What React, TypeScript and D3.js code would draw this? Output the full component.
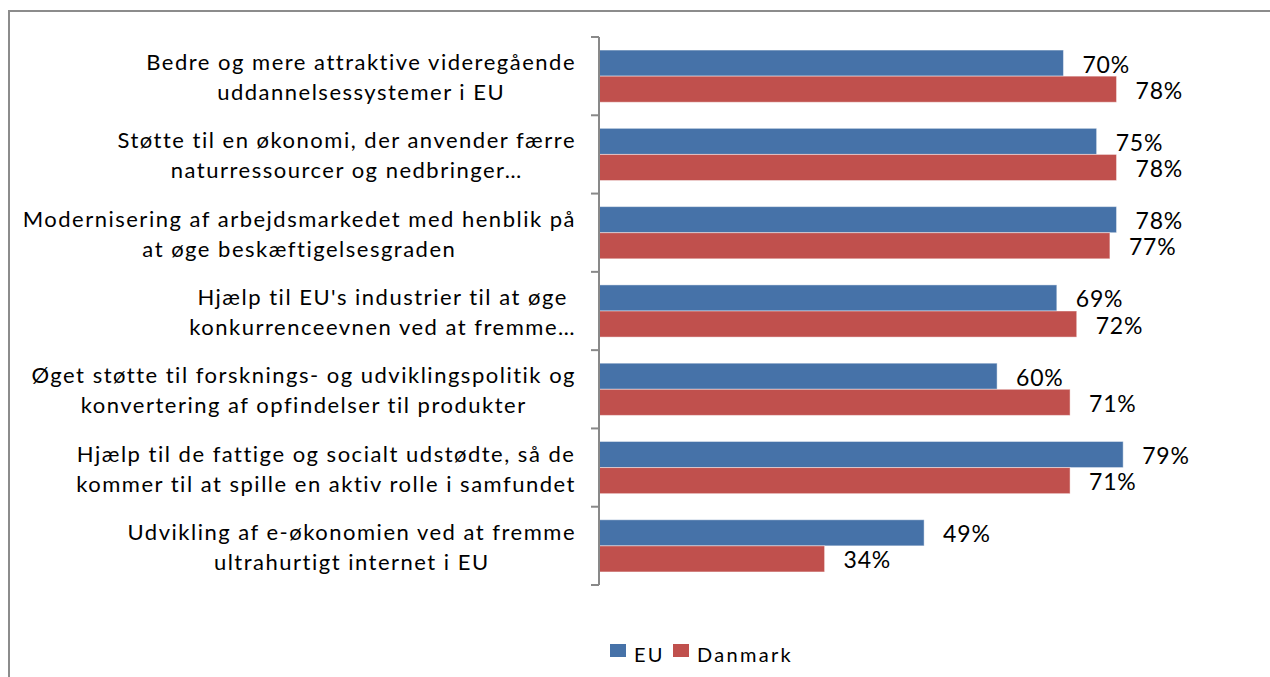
import { useRef, useEffect } from 'react';
import * as d3 from 'd3';

const categories: string[][] = [
  ['Bedre og mere attraktive videregående', 'uddannelsessystemer i EU'],
  ['Støtte til en økonomi, der anvender færre', 'naturressourcer og nedbringer…'],
  ['Modernisering af arbejdsmarkedet med henblik på', 'at øge beskæftigelsesgraden'],
  ["Hjælp til EU's industrier til at øge", 'konkurrenceevnen ved at fremme…'],
  ['Øget støtte til forsknings- og udviklingspolitik og', 'konvertering af opfindelser til produkter'],
  ['Hjælp til de fattige og socialt udstødte, så de', 'kommer til at spille en aktiv rolle i samfundet'],
  ['Udvikling af e-økonomien ved at fremme', 'ultrahurtigt internet i EU'],
];

const seriesNames = ['EU', 'Danmark'];
const euValues = [70, 75, 78, 69, 60, 79, 49];
const dkValues = [78, 78, 77, 72, 71, 71, 34];
const colors = ['#4672a8', '#c0504d'];

const W = 1270;
const H = 677;
const FONT = 'Lato, "Open Sans", sans-serif';

export default function App() {
  const svgRef = useRef<SVGSVGElement>(null);

  useEffect(() => {
    if (!svgRef.current) return;
    const svg = d3.select(svgRef.current);
    svg.selectAll('*').remove();

    const keys = categories.map((_, i) => String(i));
    const x = d3.scaleLinear().domain([0, 100]).range([599, 1262.5]);
    const y = d3.scaleBand<string>().domain(keys).range([37, 585]).paddingInner(1 / 3).paddingOuter(1 / 6);
    const sub = d3.scaleBand<string>().domain(seriesNames).range([0, y.bandwidth()]);
    const step = y.step();
    const top = 37;

    // outer frame (cut off at right and bottom)
    svg.append('rect')
      .attr('x', 9).attr('y', 11).attr('width', 1400).attr('height', 800)
      .attr('fill', '#fff').attr('stroke', '#8c8c8c').attr('stroke-width', 2);

    // bars + value labels
    const series = [euValues, dkValues];
    series.forEach((vals, s) => {
      svg.append('g').selectAll('rect')
        .data(vals)
        .join('rect')
        .attr('x', x(0))
        .attr('y', (_, i) => (y(keys[i]) ?? 0) + (sub(seriesNames[s]) ?? 0))
        .attr('width', (d) => x(d) - x(0))
        .attr('height', sub.bandwidth())
        .attr('fill', colors[s])
        .attr('stroke', 'rgba(255,255,255,0.45)')
        .attr('stroke-width', 1);

      svg.append('g').selectAll('text')
        .data(vals)
        .join('text')
        .attr('x', (d) => x(d) + 19)
        .attr('y', (_, i) => (y(keys[i]) ?? 0) + (sub(seriesNames[s]) ?? 0) + sub.bandwidth() / 2 + 9.5)
        .attr('font-family', FONT)
        .attr('font-size', 23)
        .attr('letter-spacing', 0.8)
        .attr('fill', '#000')
        .text((d) => `${d}%`);
    });

    // category axis
    const axis = svg.append('g').attr('stroke', '#898989').attr('stroke-width', 2).attr('fill', 'none');
    axis.append('line').attr('x1', 599).attr('x2', 599).attr('y1', top).attr('y2', top + step * categories.length);
    d3.range(categories.length + 1).forEach((i) => {
      axis.append('line')
        .attr('x1', 591).attr('x2', 599)
        .attr('y1', top + step * i).attr('y2', top + step * i);
    });

    // category labels: block right-aligned, lines centred in block
    const labelRight = 576;
    categories.forEach((lines, i) => {
      const c = top + step * (i + 0.5);
      const g = svg.append('g');
      const texts = lines.map((line, j) =>
        g.append('text')
          .attr('y', c - 6 + j * 30)
          .attr('font-family', FONT)
          .attr('font-size', 22)
          .attr('letter-spacing', 1.5)
          .attr('text-anchor', 'middle')
          .attr('fill', '#000')
          .text(line),
      );
      const maxW = d3.max(texts, (t) => (t.node() as SVGTextElement).getComputedTextLength()) ?? 0;
      texts.forEach((t) => t.attr('x', labelRight - maxW / 2));
    });

    // legend
    const legend = svg.append('g');
    const legendX = [610, 673];
    seriesNames.forEach((name, s) => {
      legend.append('rect')
        .attr('x', legendX[s]).attr('y', 644).attr('width', 16).attr('height', 13)
        .attr('fill', colors[s]);
      legend.append('text')
        .attr('x', legendX[s] + 24).attr('y', 662)
        .attr('font-family', FONT)
        .attr('font-size', 20)
        .attr('letter-spacing', 2.3)
        .attr('fill', '#000')
        .text(name);
    });
  }, []);

  return (
    <svg
      ref={svgRef}
      width={W}
      height={H}
      style={{ position: 'absolute', left: 0, top: 0, display: 'block', background: '#fff' }}
    />
  );
}
